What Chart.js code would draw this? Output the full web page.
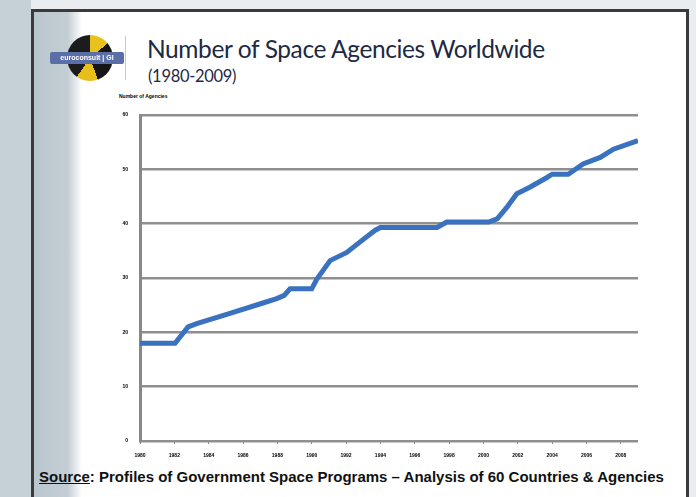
<!DOCTYPE html>
<html>
<head>
<meta charset="utf-8">
<script src="https://cdn.jsdelivr.net/npm/chart.js@4.4.1/dist/chart.umd.min.js"></script>
<style>
    html, body { margin: 0; padding: 0; }
    body {
        width: 696px; height: 497px; overflow: hidden; position: relative;
        background: #e9edef;
    }
    #side { position: absolute; left: 0; top: 0; width: 31px; height: 497px; background: #c6d0d7; }
    #frame {
        position: absolute; left: 31px; top: 9px; width: 652px; height: 500px;
        border: 3px solid #3a3a3a; background: #fff; overflow: hidden;
    }
    #strip {
        position: absolute; left: 0; top: 0; width: 48px; height: 100%;
        background: linear-gradient(to right, #bac6ce 0%, #c3cdd4 70%, #ffffff 100%);
    }
    #logo { position: absolute; left: 16px; top: 23px; width: 80px; height: 48px; }
    #globe {
        position: absolute; left: 17px; top: 0; width: 46px; height: 46px; border-radius: 50%;
        background: conic-gradient(#e8c21c 0 50deg, #161616 50deg 160deg, #e7be1a 160deg 215deg, #1c1c1c 215deg 360deg);
        filter: blur(0.6px);
    }
    #badge {
        position: absolute; left: 0; top: 17px; width: 74px; height: 12px;
        background: #5a6fa8; color: #fff; font: bold 7px "Liberation Sans"; line-height: 12px;
        text-align: center; border-radius: 2px; filter: blur(0.4px);
    }
    #sep { position: absolute; left: 91px; top: 24px; width: 1px; height: 44px; background: #c8c8c8; }
    #title {
        position: absolute; left: 113px; top: 22px; font: 24.5px Lato; color: #1d2a44;
        letter-spacing: -0.4px; white-space: nowrap;
    }
    #sub { position: absolute; left: 114px; top: 54px; font: 16.5px Lato; color: #1d2a44; letter-spacing: -0.3px; }
    #ytitle { position: absolute; left: 85px; top: 81px; font: bold 5px "Liberation Sans"; color: #000; }
    #source {
        position: absolute; left: 5px; top: 456px; font: bold 15px "Liberation Sans"; color: #111;
        white-space: nowrap; letter-spacing: 0;
    }
    #source u { text-underline-offset: 1px; }
    #wrap { position: absolute; left: 66px; top: 88px; width: 560px; height: 370px; }
</style>
</head>
<body>
<div id="side"></div>
<div id="frame">
    <div id="strip"></div>
    <div id="logo"><div id="globe"></div><div id="badge">euroconsult | GI</div></div>
    <div id="sep"></div>
    <div id="title">Number of Space Agencies Worldwide</div>
    <div id="sub">(1980-2009)</div>
    <div id="ytitle">Number of Agencies</div>
    <div id="source"><u>Source</u>: Profiles of Government Space Programs – Analysis of 60 Countries &amp; Agencies</div>
    <div id="wrap"><canvas id="myChart"></canvas></div>
</div>
<script>
// agencies counted over time (year, count)
let years = [1980, 1982.04, 1982.8, 1983.3, 1985.24, 1987.16, 1987.96, 1988.4, 1988.74, 1990.0,
    1990.3, 1991.07, 1992.04, 1992.8, 1993.7, 1994.0, 1997.3, 1997.86, 2000.3, 2000.8,
    2001.36, 2001.94, 2002.7, 2003.7, 2004.0, 2004.94, 2005.8, 2006.8, 2007.57, 2008.83, 2009];
let agencies = [18, 18, 21, 21.6, 23.5, 25.4, 26.2, 26.8, 28, 28,
    29.8, 33.2, 34.7, 36.6, 38.8, 39.3, 39.3, 40.3, 40.3, 40.9,
    43, 45.5, 46.7, 48.5, 49.1, 49.1, 51, 52.2, 53.7, 55.1, 55.3];
let xTicks = [1980, 1982, 1984, 1986, 1988, 1990, 1992, 1994, 1996, 1998, 2000, 2002, 2004, 2006, 2008];
let yTicks = [0, 10, 20, 30, 40, 50, 60];

let points = [];
years.forEach((y, i) => {
    points.push({ x: y, y: agencies[i] });
});

const ctx = document.getElementById('myChart');

new Chart(ctx, {
    type: 'line',
    data: {
        datasets: [{
            label: 'Number of Agencies',
            data: points,
            borderColor: '#3a72bf',
            borderWidth: 5,
            pointRadius: 0,
            tension: 0
        }]
    },
    options: {
        responsive: true,
        maintainAspectRatio: false,
        animation: false,
        layout: { padding: { top: 10, right: 22 } },
        plugins: { legend: { display: false }, tooltip: { enabled: false } },
        scales: {
            x: {
                type: 'linear',
                min: 1980,
                max: 2009,
                afterBuildTicks: s => { s.ticks = xTicks.map(v => ({ value: v })); },
                afterFit: s => { s.height = 29; },
                grid: { drawOnChartArea: false, drawTicks: true, tickLength: 3, color: '#8a8a8a', lineWidth: 1 },
                border: { display: false },
                ticks: {
                    color: '#000', font: { size: 5, weight: 'bold' }, padding: 9, maxRotation: 0, autoSkip: false,
                    callback: v => String(v)
                }
            },
            y: {
                min: 0,
                max: 60,
                afterBuildTicks: s => { s.ticks = yTicks.map(v => ({ value: v })); },
                afterFit: s => { s.width = 40; },
                grid: { color: '#8f8f8f', lineWidth: 2.5, drawTicks: false },
                border: { display: true, color: '#888', width: 3 },
                ticks: { color: '#000', font: { size: 5, weight: 'bold' }, padding: 12 }
            }
        }
    }
});
</script>
</body>
</html>
